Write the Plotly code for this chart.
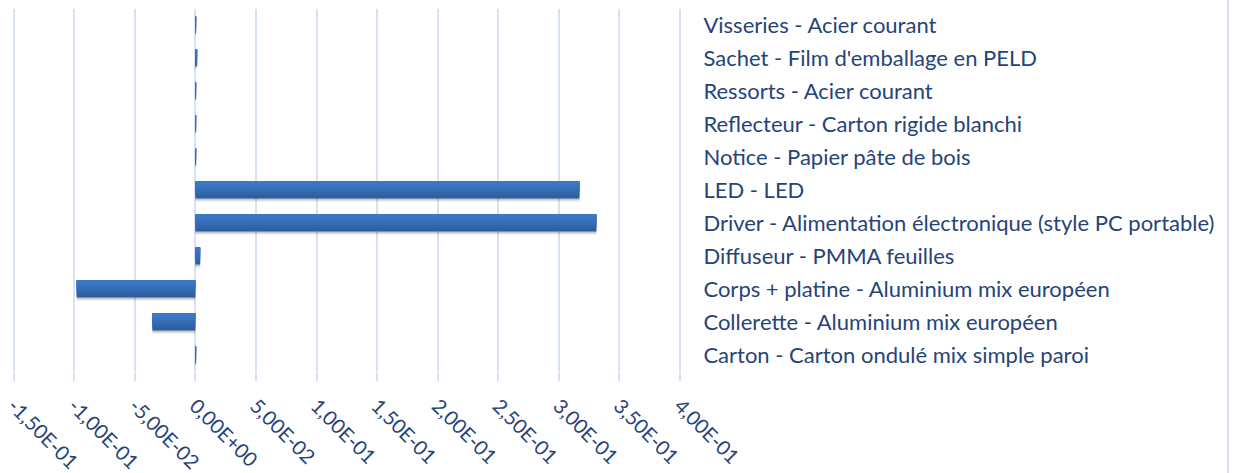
import plotly.graph_objects as go

# Categories listed bottom-to-top (as in the source chart)
categories = [
    "Carton - Carton ondulé mix simple paroi",
    "Collerette - Aluminium mix européen",
    "Corps + platine - Aluminium mix européen",
    "Diffuseur - PMMA feuilles",
    "Driver - Alimentation électronique (style PC portable)",
    "LED - LED",
    "Notice - Papier pâte de bois",
    "Reflecteur - Carton rigide blanchi",
    "Ressorts - Acier courant",
    "Sachet - Film d'emballage en PELD",
    "Visseries - Acier courant",
]
values = [0.0005, -0.0355, -0.098, 0.004, 0.331, 0.317, 0.0002, 0.0002, 0.0001, 0.001, 0.0002]

tick_vals = [-0.15, -0.10, -0.05, 0.0, 0.05, 0.10, 0.15, 0.20, 0.25, 0.30, 0.35, 0.40]
tick_text = ["-1,50E-01", "-1,00E-01", "-5,00E-02", "0,00E+00", "5,00E-02", "1,00E-01",
             "1,50E-01", "2,00E-01", "2,50E-01", "3,00E-01", "3,50E-01", "4,00E-01"]

W, H = 1233, 473
FONT = "Lato"
TXT = "#264478"
GRID = "#D6E2F3"

bw = 0.52
fig = go.Figure()
# soft shadow layers
for k, a in [(0.10, 0.05), (0.07, 0.08), (0.04, 0.11)]:
    fig.add_trace(go.Bar(y=categories, x=values, orientation="h", width=bw,
                         offset=-bw / 2 - k, marker=dict(color=f"rgba(0,0,0,{a})", line=dict(width=0)),
                         hoverinfo="skip", showlegend=False))
# gradient-like bar: stacked layers, each covering from its start to the top
strips = ["#2E5E9E", "#3266AA", "#356DB5", "#3874BF", "#3B79C6"]
n = len(strips)
for i, c in enumerate(strips):
    h = bw * (n - i) / n
    fig.add_trace(go.Bar(y=categories, x=values, orientation="h", width=h,
                         offset=bw / 2 - h,
                         marker=dict(color=c, line=dict(width=0)), showlegend=False))

# axis range slightly padded so the end gridlines are drawn
pad = 0.002
ppu = (680.0 - 13.6) / 0.55
x0 = (13.6 - pad * ppu) / W
x1 = (680.0 + pad * ppu) / W
ytop, ybot = 8.5, 371.5
fig.update_layout(
    width=W, height=H,
    margin=dict(l=0, r=0, t=0, b=0, autoexpand=False),
    paper_bgcolor="white", plot_bgcolor="white",
    barmode="overlay",
    font=dict(family=FONT, color=TXT, size=19),
    xaxis=dict(
        domain=[x0, x1], range=[-0.15 - pad, 0.40 + pad], automargin=False,
        tickvals=tick_vals, ticktext=tick_text, tickangle=45,
        showgrid=True, gridcolor=GRID, gridwidth=2,
        ticks="outside", ticklen=8, tickcolor=GRID, tickwidth=2,
        ticklabelstandoff=6, ticklabeloverflow="allow",
        zeroline=False, showline=False,
        tickfont=dict(family=FONT, size=20, color=TXT),
    ),
    yaxis=dict(
        domain=[(H - ybot) / H, (H - ytop) / H], automargin=False,
        side="right", showgrid=False, zeroline=False, showline=False,
        ticks="", ticklabelstandoff=int(round(22 - pad * ppu)), ticklabeloverflow="allow",
        tickfont=dict(family=FONT, size=22, color=TXT),
    ),
    shapes=[dict(type="line", xref="paper", yref="paper", x0=1228 / W, x1=1228 / W,
                 y0=0, y1=1, line=dict(color=GRID, width=2))],
)

fig.write_html(
    "out.html",
    config={"displayModeBar": False},
    post_script="document.body.style.margin='0';document.body.style.overflow='hidden';",
)
